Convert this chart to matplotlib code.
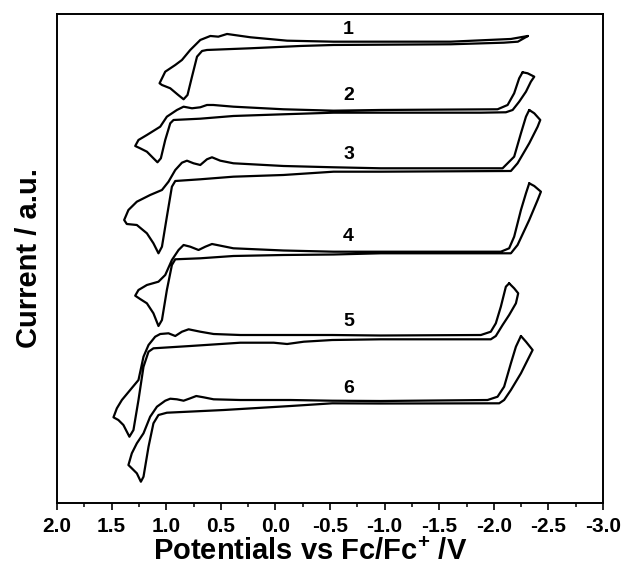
import matplotlib
matplotlib.use("Agg")
import matplotlib.pyplot as plt
from matplotlib.ticker import MultipleLocator

plt.rcParams['font.family'] = ['Liberation Sans', 'DejaVu Sans']
plt.rcParams['mathtext.fontset'] = 'custom'
plt.rcParams['mathtext.rm'] = 'Liberation Sans:bold'
plt.rcParams['mathtext.bf'] = 'Liberation Sans:bold'

# Potentials (V vs Fc/Fc+) and stacked currents (a.u.) for six CV loops
E1 = [-2.312, -2.156, -1.606, -0.532, -0.107, 0.229, 0.443, 0.523, 0.596, 0.688, 0.780, 0.856, 0.917, 1.009, 1.061, 1.039, 0.963, 0.890, 0.841, 0.805, 0.764, 0.718, 0.672, 0.627, 0.229, -0.229, -0.532, -1.606, -2.092, -2.220, -2.312]
I1 = [46.70, 46.40, 46.13, 46.13, 46.23, 46.57, 46.90, 46.63, 46.70, 46.30, 45.30, 44.30, 43.80, 43.13, 41.97, 41.80, 41.47, 40.80, 40.37, 40.80, 42.63, 44.63, 45.20, 45.30, 45.47, 45.70, 45.80, 45.87, 46.03, 46.13, 46.70]

E2 = [-2.263, -2.232, -2.186, -2.126, -2.034, -0.963, -0.532, -0.073, 0.385, 0.569, 0.627, 0.688, 0.764, 0.841, 0.902, 0.994, 1.055, 1.177, 1.254, 1.284, 1.239, 1.177, 1.117, 1.080, 1.049, 1.009, 0.963, 0.933, 0.688, 0.385, -0.073, -0.532, -0.963, -1.881, -2.110, -2.172, -2.232, -2.294, -2.339, -2.370, -2.309, -2.263]
I2 = [43.07, 42.47, 40.97, 39.80, 39.37, 39.30, 39.23, 39.37, 39.63, 39.80, 39.80, 39.57, 39.47, 39.63, 39.30, 38.63, 37.63, 36.80, 36.30, 35.70, 35.47, 35.13, 34.47, 34.07, 34.47, 36.30, 37.97, 38.30, 38.43, 38.70, 38.87, 39.03, 39.03, 39.03, 39.07, 39.30, 40.13, 41.13, 42.13, 42.63, 42.97, 43.07]

E3 = [-2.324, -2.294, -2.248, -2.186, -2.080, -0.963, -0.532, -0.073, 0.385, 0.505, 0.581, 0.627, 0.688, 0.750, 0.810, 0.856, 0.917, 0.979, 1.039, 1.147, 1.269, 1.346, 1.385, 1.361, 1.269, 1.177, 1.117, 1.071, 1.039, 0.994, 0.948, 0.917, 0.688, 0.385, -0.073, -0.532, -0.963, -2.156, -2.217, -2.324, -2.401, -2.425, -2.370, -2.324]
I3 = [39.30, 38.63, 36.97, 34.63, 33.47, 33.47, 33.57, 33.70, 33.97, 34.23, 34.57, 34.37, 33.80, 33.97, 34.23, 34.03, 33.30, 32.13, 31.30, 30.80, 30.13, 29.30, 28.30, 27.90, 27.80, 26.97, 25.97, 24.97, 25.63, 28.63, 31.63, 32.20, 32.37, 32.63, 32.80, 33.13, 33.13, 33.20, 33.97, 35.97, 37.63, 38.30, 38.97, 39.30]

E4 = [-2.324, -2.294, -2.248, -2.186, -2.140, -2.064, -0.963, -0.532, -0.073, 0.385, 0.535, 0.581, 0.642, 0.704, 0.780, 0.841, 0.887, 0.948, 1.009, 1.071, 1.177, 1.254, 1.284, 1.239, 1.177, 1.117, 1.071, 1.039, 0.994, 0.948, 0.917, 0.688, 0.385, -0.073, -0.532, -0.963, -2.156, -2.217, -2.324, -2.401, -2.431, -2.370, -2.324]
I4 = [31.97, 30.97, 29.30, 26.63, 25.47, 25.13, 25.13, 25.13, 25.25, 25.47, 25.80, 25.90, 25.63, 25.30, 25.63, 25.80, 25.30, 24.30, 22.80, 22.13, 21.80, 21.30, 20.73, 20.40, 19.97, 18.97, 17.70, 18.30, 21.30, 23.80, 24.37, 24.47, 24.70, 24.80, 24.85, 24.97, 24.97, 25.80, 28.30, 30.30, 31.13, 31.70, 31.97]

E5 = [-2.140, -2.110, -2.064, -2.018, -1.972, -1.881, -0.963, -0.520, -0.138, 0.321, 0.566, 0.688, 0.795, 0.856, 0.917, 0.979, 1.055, 1.101, 1.162, 1.208, 1.254, 1.330, 1.406, 1.452, 1.483, 1.438, 1.392, 1.337, 1.300, 1.254, 1.208, 1.162, 1.117, 0.780, 0.321, 0.016, -0.107, -0.260, -0.520, -0.963, -1.972, -2.018, -2.080, -2.140, -2.202, -2.223, -2.186, -2.140]
I5 = [21.97, 21.63, 19.63, 17.97, 17.13, 16.80, 16.75, 16.80, 16.80, 16.80, 16.90, 17.13, 17.37, 17.13, 16.70, 16.97, 16.90, 16.63, 15.80, 14.63, 12.30, 11.30, 10.30, 9.47, 8.57, 8.30, 7.80, 6.63, 7.30, 10.30, 13.63, 15.13, 15.47, 15.70, 16.03, 16.03, 15.90, 16.13, 16.30, 16.37, 16.37, 16.70, 17.80, 18.80, 19.97, 20.97, 21.47, 21.97]

E6 = [-2.248, -2.202, -2.156, -2.094, -2.034, -1.942, -0.963, -0.520, -0.138, 0.321, 0.566, 0.658, 0.725, 0.780, 0.841, 0.902, 0.963, 1.009, 1.085, 1.147, 1.208, 1.269, 1.315, 1.346, 1.315, 1.269, 1.232, 1.208, 1.162, 1.117, 1.071, 0.994, 0.474, -0.138, -0.520, -0.963, -2.049, -2.094, -2.156, -2.248, -2.309, -2.355, -2.294, -2.248]
I6 = [16.70, 15.63, 13.97, 11.63, 10.63, 10.30, 10.20, 10.23, 10.30, 10.30, 10.37, 10.57, 10.70, 10.47, 10.23, 10.37, 10.43, 10.23, 9.63, 8.63, 6.97, 5.97, 4.97, 3.80, 3.47, 2.97, 2.13, 2.63, 5.63, 7.97, 8.80, 9.03, 9.30, 9.70, 9.97, 9.95, 9.97, 10.30, 11.30, 12.97, 14.30, 15.30, 16.13, 16.70]

curve_labels = ["1", "2", "3", "4", "5", "6"]
label_E = [-0.67, -0.67, -0.67, -0.67, -0.67, -0.67]
label_I = [47.3, 40.7, 34.8, 26.6, 18.2, 11.5]

xticks = [2.0, 1.5, 1.0, 0.5, 0.0, -0.5, -1.0, -1.5, -2.0, -2.5, -3.0]

fig = plt.figure(figsize=(6.23, 5.68), dpi=100)
ax = fig.add_axes([0.0915, 0.1144, 0.8765, 0.861])

for E, I in [(E1, I1), (E2, I2), (E3, I3), (E4, I4), (E5, I5), (E6, I6)]:
    ax.plot(E, I, color='black', lw=1.6, solid_joinstyle='round', solid_capstyle='round')

for t, x, y in zip(curve_labels, label_E, label_I):
    ax.text(x, y, t, ha='center', va='center', fontsize=14, fontweight='bold')

ax.set_xlim(2.0, -3.0)
ax.set_ylim(0, 48.9)
ax.set_xticks(xticks)
ax.set_xticklabels([f"{v:.1f}" for v in xticks])
ax.xaxis.set_minor_locator(MultipleLocator(0.25))
ax.set_yticks([])
ax.tick_params(axis='x', which='major', direction='out', length=5, width=1.2, pad=5,
               labelsize=15, top=False)
ax.tick_params(axis='x', which='minor', direction='out', length=3, width=1.1, top=False)
for lab in ax.get_xticklabels():
    lab.set_fontweight('bold')
for s in ax.spines.values():
    s.set_linewidth(1.4)

ax.set_xlabel('Potentials vs Fc/Fc$^{+}$ /V', fontsize=21, fontweight='bold', labelpad=1)
ax.xaxis.set_label_coords(0.463, -0.072)
ax.set_ylabel('Current / a.u.', fontsize=21, fontweight='bold', labelpad=10)

fig.savefig('out.png', dpi=100)
